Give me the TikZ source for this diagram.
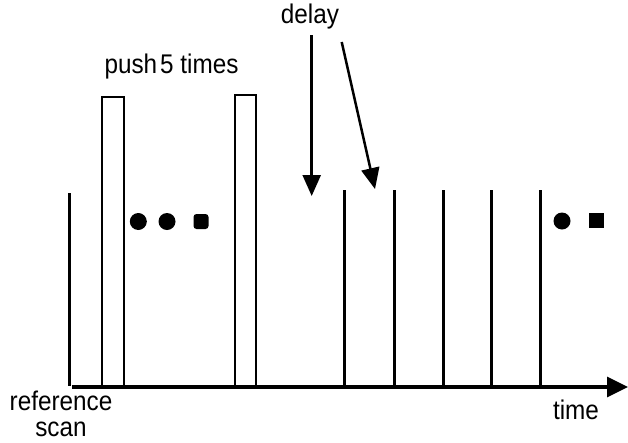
\documentclass[tikz,border=0pt]{standalone}
\usepackage{fontspec}
\setmainfont{Liberation Sans}
\usetikzlibrary{arrows.meta}
\begin{document}
\begin{tikzpicture}[x=1pt,y=-1pt,
  lbl/.style={font=\fontsize{27}{28}\selectfont, inner sep=0pt, xscale=0.9, transform shape},
  pulse/.style={draw, line width=2pt, inner sep=0pt, outer sep=0pt, minimum width=21.5pt, anchor=south},
  scanline/.style={line width=3pt},
  axis/.style={line width=3.3pt, -{Triangle[length=21pt,width=20pt]}},
  pointer/.style={line width=2.5pt, -{Triangle[length=21pt,width=18pt]}},
  dot/.style={circle, fill, inner sep=0pt, minimum width=17pt, minimum height=15pt},
  sqdot/.style={rectangle, fill, inner sep=0pt, minimum width=15pt, minimum height=15pt}
]
\useasboundingbox (0,0) rectangle (628,442);

% time axis
\coordinate (t0) at (72,387);
\coordinate (tend) at (628,387);
\draw[axis] (t0) -- (tend);
\node[lbl, anchor=base] (time) at (576,419) {time};

% reference scan
\coordinate (r0) at (69.5,193);
\coordinate (r1) at (69.5,386);
\draw[scanline] (r0) -- (r1);
\node[lbl, anchor=base, align=center, font=\fontsize{27}{26}\selectfont] (ref) at (61,436.5) {reference\\scan};

% push pulses
\node[pulse, minimum height=290pt] (p1) at (113.2,387) {};
\node[pulse, minimum height=292.5pt] (p2) at (245.7,387) {};
\node[lbl, anchor=base] (push) at (171.5,73) {push\hspace{0.12em}5 times};

% dots between the pulses
\node[dot] (d1) at (138.3,221.5) {};
\node[dot] (d2) at (167,221.5) {};
\node[sqdot, rounded corners=3pt] (d3) at (201,221.5) {};

% tracking scans after the pushes
\foreach \x [count=\i] in {344.3,394.3,443.3,491.3,540} {
  \coordinate (s\i top) at (\x,190);
  \coordinate (s\i bot) at (\x,387);
  \draw[scanline] (s\i top) -- (s\i bot);
}

% trailing dots
\node[dot] (e1) at (562,221) {};
\node[sqdot] (e2) at (596.5,220.5) {};

% delay label and pointers
\node[lbl, anchor=base] (delay) at (310,23) {delay};
\coordinate (a1s) at (311.7,35);
\coordinate (a1e) at (311.7,196);
\coordinate (a2s) at (341.7,42);
\coordinate (a2e) at (375,189);
\draw[pointer] (a1s) -- (a1e);
\draw[pointer] (a2s) -- (a2e);
\end{tikzpicture}
\end{document}
